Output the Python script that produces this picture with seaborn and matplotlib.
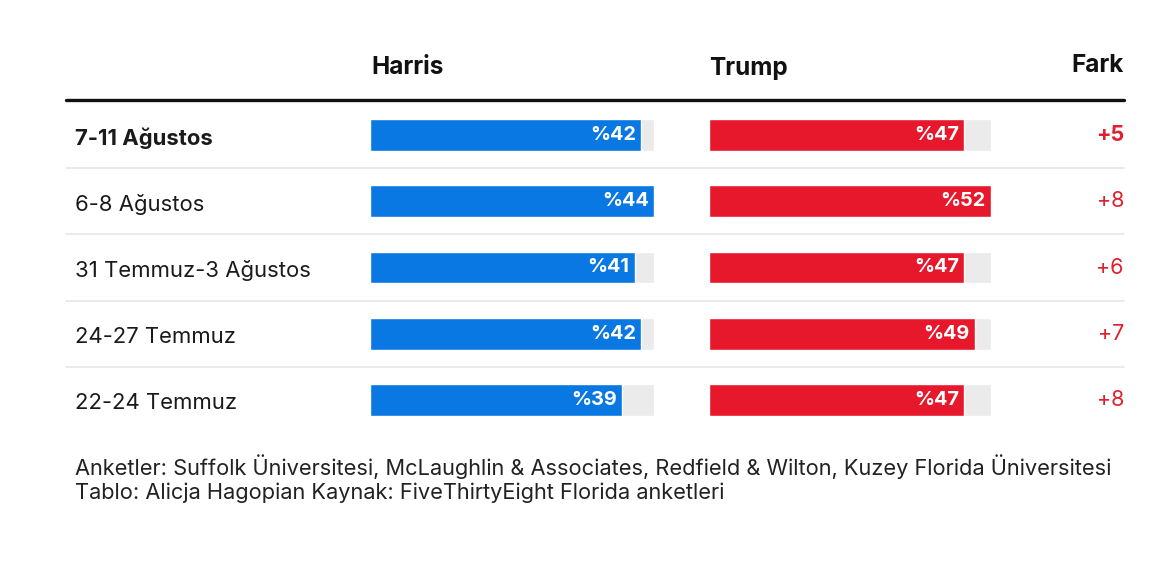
import matplotlib
matplotlib.use("Agg")
import matplotlib.pyplot as plt
import matplotlib.transforms as mtrans
import seaborn as sns
import pandas as pd

dates = ["7-11 Ağustos", "6-8 Ağustos", "31 Temmuz-3 Ağustos", "24-27 Temmuz", "22-24 Temmuz"]
harris = [42, 44, 41, 42, 39]
trump = [47, 52, 47, 49, 47]
fark = ["+5", "+8", "+6", "+7", "+8"]
headers = ["Harris", "Trump", "Fark"]
notes = ["Anketler: Suffolk Üniversitesi, McLaughlin & Associates, Redfield & Wilton, Kuzey Florida Üniversitesi",
         "Tablo: Alicja Hagopian Kaynak: FiveThirtyEight Florida anketleri"]

sns.set_theme(style="white")
plt.rcParams['font.family'] = ['Inter', 'DejaVu Sans']

BLUE = "#0A78E2"
RED = "#E8182C"
GREY = "#EBEBEB"
FARKRED = "#E0202E"

W, H = 1170, 571
fig = plt.figure(figsize=(W / 100, H / 100), dpi=100)
fig.patch.set_facecolor("white")

def fx(px):
    return px / W

def fy(py):
    return 1 - py / H

top, bot = 102, 433
ax_h = fig.add_axes([fx(370), fy(bot), fx(654 - 370), (bot - top) / H])
ax_t = fig.add_axes([fx(709), fy(bot), fx(991 - 709), (bot - top) / H])

df = pd.DataFrame({"date": dates, "Harris": harris, "Trump": trump})

for ax, col, color in [(ax_h, "Harris", BLUE), (ax_t, "Trump", RED)]:
    mx = df[col].max()
    bg = pd.DataFrame({"date": dates, "v": [mx] * len(dates)})
    sns.barplot(data=bg, x="v", y="date", orient="h", color=GREY, width=0.48,
                saturation=1, ax=ax, order=dates)
    sns.barplot(data=df, x=col, y="date", orient="h", color=color, width=0.48,
                saturation=1, ax=ax, order=dates)
    ax.set_xlim(0, mx)
    ax.set_ylim(len(dates) - 0.5, -0.5)
    ax.axis("off")
    for i, v in enumerate(df[col]):
        ax.text(v - mx * 0.018, i, f"%{v}", ha="right", va="center", color="white",
                fontsize=14.3, fontweight="bold")

tr = mtrans.blended_transform_factory(fig.transFigure, ax_h.transData)
for i, d in enumerate(dates):
    ax_h.text(fx(75), i + 0.05, d, transform=tr, ha="left", va="center", fontsize=15.9,
              color="#1a1a1a", fontweight="bold" if i == 0 else "normal", clip_on=False)
    ax_h.text(fx(1124), i, fark[i], transform=tr, ha="right", va="center", fontsize=15.5,
              color=FARKRED, fontweight="bold" if i == 0 else "normal", clip_on=False)

for i in range(len(dates) - 1):
    ax_h.add_line(plt.Line2D([fx(66), fx(1124)], [i + 0.5, i + 0.5], transform=tr,
                             color="#E6E6E6", lw=1.2, clip_on=False))

fig.add_artist(plt.Line2D([fx(66), fx(1124)], [fy(100), fy(100)], color="#111111", lw=2.4))

fig.text(fx(371), fy(68), headers[0], ha="left", va="center", fontsize=17.5, fontweight="bold", color="#111111")
fig.text(fx(709), fy(68), headers[1], ha="left", va="center", fontsize=17.5, fontweight="bold", color="#111111")
fig.text(fx(1124), fy(66), headers[2], ha="right", va="center", fontsize=17.5, fontweight="bold", color="#111111")

fig.text(fx(75), fy(467), notes[0], ha="left", va="center", fontsize=15.7, color="#222222")
fig.text(fx(75), fy(493), notes[1], ha="left", va="center", fontsize=15.7, color="#222222")

fig.savefig("out.png", dpi=100, facecolor="white")
